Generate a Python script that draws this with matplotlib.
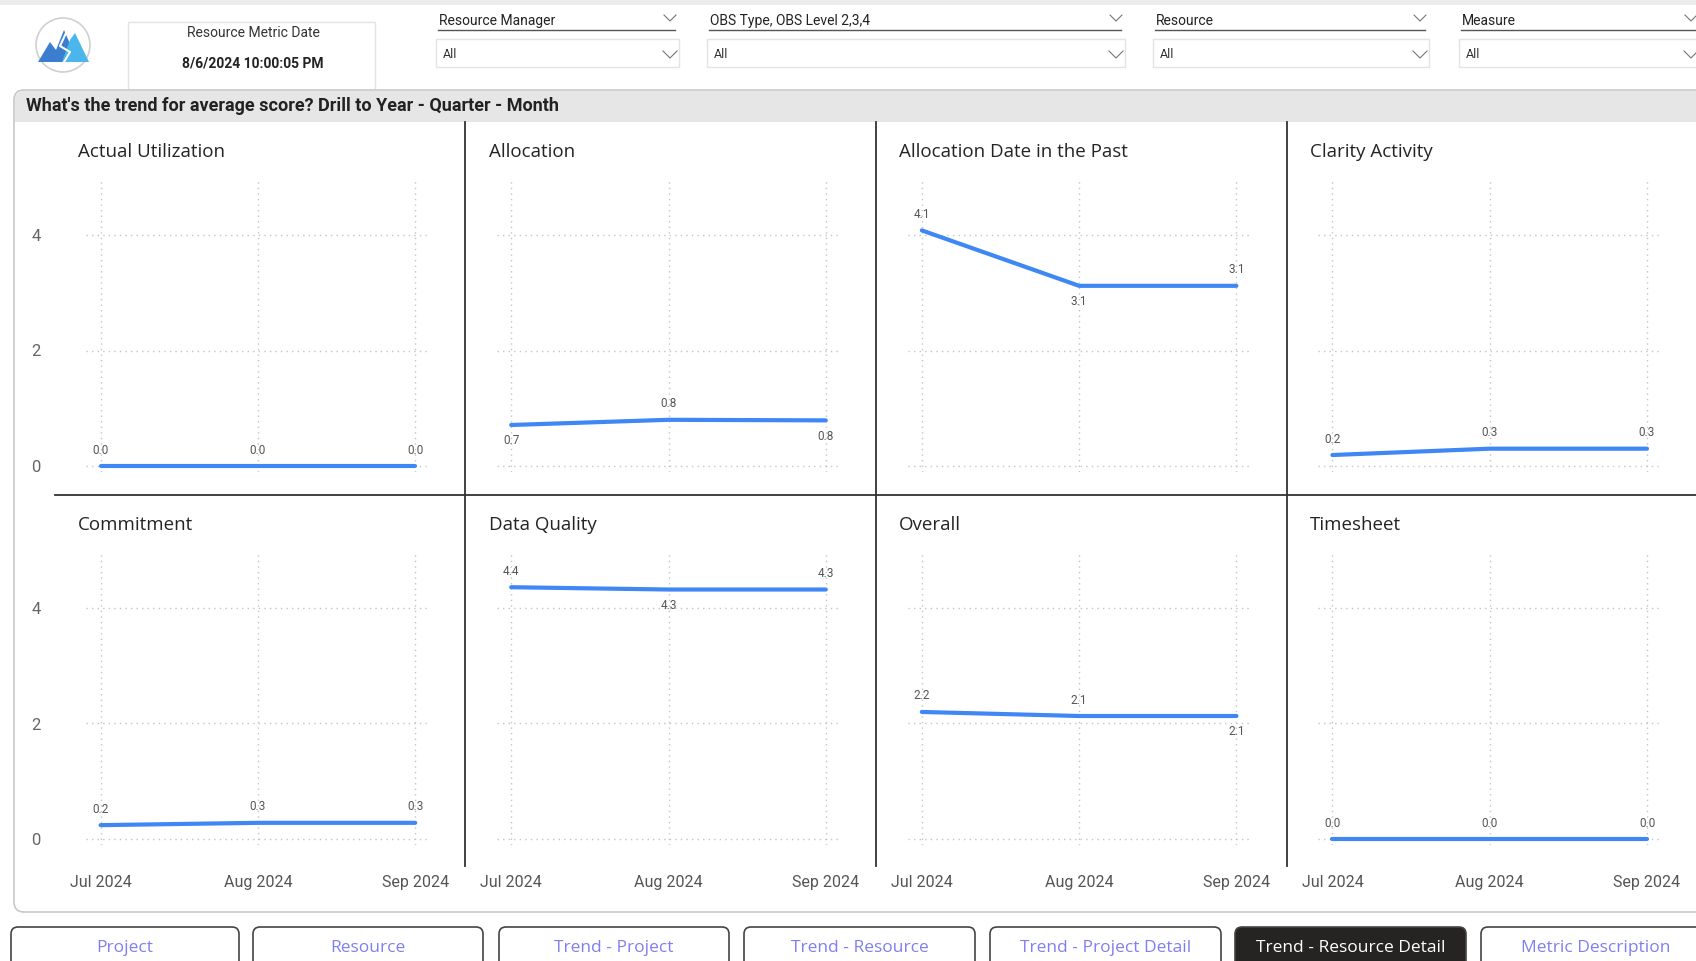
import matplotlib
matplotlib.use("Agg")
import matplotlib.pyplot as plt
from matplotlib.patches import FancyBboxPatch, Rectangle, Circle, Polygon

W, H = 1696, 961

# data
months = ["Jul 2024", "Aug 2024", "Sep 2024"]
titles = ["Actual Utilization", "Allocation", "Allocation Date in the Past", "Clarity Activity",
          "Commitment", "Data Quality", "Overall", "Timesheet"]
actual_utilization = [0.0, 0.0, 0.0]
allocation = [0.71, 0.80, 0.79]
allocation_past = [4.08, 3.12, 3.12]
clarity_activity = [0.19, 0.30, 0.30]
commitment = [0.24, 0.28, 0.28]
data_quality = [4.36, 4.32, 4.32]
overall = [2.20, 2.13, 2.13]
timesheet = [0.0, 0.0, 0.0]
series = [actual_utilization, allocation, allocation_past, clarity_activity,
          commitment, data_quality, overall, timesheet]
# label placement: +1 above, -1 below
label_side = [[1, 1, 1], [-1, 1, -1], [1, -1, 1], [1, 1, 1],
              [1, 1, 1], [1, -1, 1], [1, 1, -1], [1, 1, 1]]

slicers = ["Resource Manager", "OBS Type, OBS Level 2,3,4", "Resource", "Measure"]
tabs = ["Project", "Resource", "Trend - Project", "Trend - Resource",
        "Trend - Project Detail", "Trend - Resource Detail", "Metric Description"]
active_tab = "Trend - Resource Detail"

BLUE = "#3f87f5"
TITLE_FONT = "Open Sans"
SMALL_FONT = "Roboto"

fig = plt.figure(figsize=(W / 100, H / 100), dpi=100)
fig.patch.set_facecolor("white")

# background axes in pixel coordinates
bg = fig.add_axes([0, 0, 1, 1])
bg.set_xlim(0, W)
bg.set_ylim(H, 0)
bg.axis("off")

# faint top line
bg.add_patch(Rectangle((0, 0), W, 5, color="#ececec", lw=0))

# logo
bg.add_patch(Circle((63, 45), 27, fill=False, ec="#d0d0d0", lw=1.2))
bg.add_patch(Polygon([(38, 62), (50, 42), (56, 50), (64, 30), (78, 62)], closed=True, color="#3b7ed0", lw=0))
bg.add_patch(Polygon([(62, 62), (70, 40), (75, 33), (89, 62)], closed=True, color="#4bb6ec", lw=0))
bg.plot([66, 60, 70, 64], [33, 46, 52, 62], color="white", lw=1.5)

# date card
bg.add_patch(Rectangle((128, 22), 247, 68, fc="white", ec="#e2e2e2", lw=1))
bg.text(253, 33, "Resource Metric Date", ha="center", va="center", fontsize=10, color="#333333", family=SMALL_FONT)
bg.text(253, 63.5, "8/6/2024 10:00:05 PM", ha="center", va="center", fontsize=10, color="#222222",
        family=SMALL_FONT, fontweight="bold")

# slicers
slicer_x = [(436, 679), (707, 1125), (1153, 1429), (1459, 1700)]
for name, (x0, x1) in zip(slicers, slicer_x):
    bg.text(x0 + 3, 21, name, ha="left", va="center", fontsize=10, color="#222222", family=SMALL_FONT)
    bg.plot([x0 + 2, x1 - 4], [29.5, 29.5], color="#555555", lw=1)
    cx = x1 - 9
    bg.plot([cx - 6, cx, cx + 6], [15, 21, 15], color="#777777", lw=0.8)
    bg.add_patch(Rectangle((x0, 39), x1 - x0, 28, fc="white", ec="#e4e4e4", lw=1))
    bg.text(x0 + 7, 54.5, "All", ha="left", va="center", fontsize=9, color="#333333", family=SMALL_FONT)
    bg.plot([cx - 7, cx, cx + 7], [51, 58, 51], color="#777777", lw=0.8)

# main card with header band
bg.add_patch(FancyBboxPatch((14, 90), 1700, 822, boxstyle="round,pad=0,rounding_size=10",
                            fc="white", ec="#c8c8c8", lw=1.2))
bg.add_patch(FancyBboxPatch((15, 91), 1700, 31, boxstyle="round,pad=0,rounding_size=9",
                            fc="#e6e6e6", ec="none"))
bg.add_patch(Rectangle((15, 110), 1700, 12, fc="#e6e6e6", ec="none"))
bg.text(26, 106, "What's the trend for average score? Drill to Year - Quarter - Month", ha="left",
        va="center", fontsize=13, fontweight="bold", color="#222222", family=SMALL_FONT)

# separators
for x in [465, 876, 1287]:
    bg.plot([x, x], [122, 866], color="#333333", lw=1.3)
bg.plot([55, W], [495, 495], color="#333333", lw=1.3)

# tabs
tab_x = [(11, 239), (253, 483), (499, 729), (744, 975), (990, 1221), (1235, 1466), (1481, 1711)]
for name, (x0, x1) in zip(tabs, tab_x):
    active = name == active_tab
    bg.add_patch(FancyBboxPatch((x0, 927), x1 - x0, 60, boxstyle="round,pad=0,rounding_size=7",
                                fc="#252423" if active else "white", ec="#444444", lw=1.2))
    bg.text((x0 + x1) / 2, 948, name, ha="center", va="center", fontsize=12.5,
            color="white" if active else "#7f7ff2", family=TITLE_FONT)

# chart panels
sx, sy = 157.3, 57.75
xlo, xhi = -0.09, 2.09
ylo, yhi = -0.1, 4.93
col_x0 = [100.6, 511.2, 921.8, 1332.4]
row_y0 = [466, 839]

for i, (title, vals) in enumerate(zip(titles, series)):
    r, c = divmod(i, 4)
    X0, Y0 = col_x0[c], row_y0[r]
    left = X0 + xlo * sx
    right = X0 + xhi * sx
    top = Y0 - yhi * sy
    bottom = Y0 - ylo * sy
    ax = fig.add_axes([left / W, 1 - bottom / H, (right - left) / W, (bottom - top) / H])
    ax.set_xlim(xlo, xhi)
    ax.set_ylim(ylo, yhi)
    ax.patch.set_alpha(0)
    for s in ax.spines.values():
        s.set_visible(False)
    ax.set_xticks(range(len(months)))
    ax.set_yticks([0, 2, 4])
    ax.grid(True, color="#c4c4c4", linestyle=(0, (1, 3)), lw=1)
    ax.tick_params(length=0)
    if r == 1:
        ax.set_xticklabels(months, fontsize=11.5, color="#555555", family=SMALL_FONT)
        ax.tick_params(axis="x", pad=22)
    else:
        ax.set_xticklabels([])
    if c == 0:
        ax.set_yticklabels(["0", "2", "4"], fontsize=12, color="#666666", family=SMALL_FONT)
        ax.tick_params(axis="y", pad=33)
    else:
        ax.set_yticklabels([])

    ax.plot(range(len(vals)), vals, color=BLUE, lw=3, solid_capstyle="round", clip_on=False)
    for j, v in enumerate(vals):
        ax.annotate(f"{v:.1f}", (j, v), xytext=(0, 11.5 * label_side[i][j]), textcoords="offset points",
                    ha="center", va="center", fontsize=8.5, color="#555555", family=SMALL_FONT)

    fig.text((X0 - 22.6) / W, 1 - (152 + 373.5 * r) / H, title, ha="left", va="center",
             fontsize=13.5, color="#252423", family=TITLE_FONT)

fig.savefig("out.png", dpi=100)
